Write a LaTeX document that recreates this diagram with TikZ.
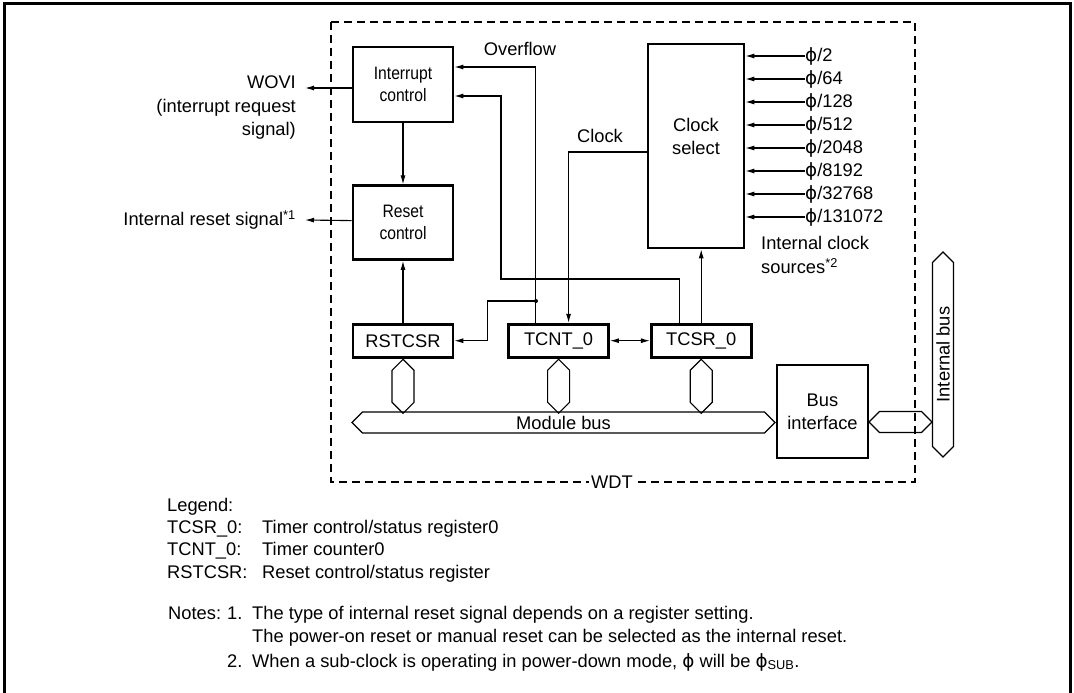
\documentclass[tikz,border=0pt]{standalone}
\usepackage{fontspec}
\setmainfont{Liberation Sans}
\newfontfamily\phifont{DejaVu Sans}
\newfontfamily\narrowfont[FakeStretch=0.87]{Liberation Sans}
\usetikzlibrary{arrows.meta,positioning,shapes.symbols}
\newcommand{\wdtphi}{{\phifont ϕ}}
\begin{document}
\begin{tikzpicture}[x=1pt,y=-1pt,node distance=61pt,font=\fontsize{18.3}{23}\selectfont,
 box/.style={draw,line width=2.6pt,align=center,inner sep=0pt},
 reg/.style={box,minimum width=100pt,minimum height=33pt},
 ctl/.style={box,minimum width=100pt,font=\narrowfont\fontsize{18}{22}\selectfont},
 hexbus/.style={draw,line width=1.1pt,signal,signal to=west and east,inner sep=0pt},
 stub/.style={hexbus,rotate=90,minimum width=54pt,minimum height=22pt,anchor=east},
 txt/.style={inner sep=0pt},
 arr/.style={line width=1.1pt,-{Latex[length=9pt,width=5pt]}},
 dbl/.style={line width=1.1pt,{Latex[length=9pt,width=5pt]}-{Latex[length=9pt,width=5pt]}}]
\useasboundingbox (0,0) rectangle (1074,693);
\draw[line width=3pt] (4,693) -- (4,4) -- (1070,4) -- (1070,693);
\draw[line width=1.1pt,dash pattern=on 8pt off 5pt] (331,22) rectangle (915,482);
\node[fill=white,inner sep=2pt] (wdt) at (612,482) {WDT};
\node[ctl,minimum height=75pt] (intc) at (403,84.5) {Interrupt\\control};
\node[ctl,minimum height=74pt,below=of intc] (rstc) {Reset\\control};
\node[reg,below=62pt of rstc] (rstcsr) {RSTCSR};
\node[reg,right=53pt of rstcsr] (tcnt) {TCNT\_0};
\node[reg,right=40pt of tcnt] (tcsr) {TCSR\_0};
\node[box,minimum width=96pt,minimum height=204pt] (clks) at (696,146) {};
\node[txt,align=center] (clkstxt) at (696,136.5) {Clock\\select};
\node[box,minimum width=91pt,minimum height=93pt] (busif) at (822.5,411.5) {Bus\\interface};
\node[hexbus,minimum width=423pt,minimum height=21pt] (mbus) at (563.5,422.5) {Module bus};
\node[hexbus,rotate=90,minimum width=205pt,minimum height=21pt] (ibus) at (943,354.5) {Internal bus};
\node[hexbus,minimum width=63pt,minimum height=21pt] (bcon) at (900.5,422) {};
\node[stub] (h1) at (rstcsr.south) {};
\node[stub] (h2) at (tcnt.south) {};
\node[stub] (h3) at (tcsr.south) {};
\node[txt] (ovflbl) at (520,49) {Overflow};
\node[txt] (clklbl) at (600,136) {Clock};
\node[txt,align=right,anchor=east,font=\fontsize{18.3}{23.5}\selectfont] (wovi) at (296,108) {WOVI\\(interrupt request\\signal)};
\node[txt,anchor=east] (rstsig) at (296,220) {Internal reset signal\textsuperscript{*1}};
\node[txt,align=left,anchor=west,font=\fontsize{18.3}{24}\selectfont] (srclbl) at (761,255) {Internal clock\\sources\textsuperscript{*2}};
\coordinate (woviend) at (305,88);
\coordinate (rstend) at (305,220);
\coordinate (ovf) at (536,301);
\foreach \d [count=\i] in {2,64,128,512,2048,8192,32768,131072}
 {\node[txt,anchor=west] (src\i) at (805,33+23*\i) {\wdtphi/\d};
  \draw[arr] (src\i.west) -- (src\i.west -| clks.east);}
\draw[arr] (intc)--(rstc);\draw[arr] (rstcsr)--(rstc);\draw[arr] (tcsr)--(tcsr |- clks.south);
\draw[dbl] (tcnt)--(tcsr);
\draw[arr] ([yshift=-3.5pt]intc.west)--(woviend);\draw[arr] ([yshift=2pt]rstc.west)--(rstend);
\draw[arr] ([xshift=-23pt]tcnt.north) |- ([yshift=17.5pt]intc.east);
\fill (ovf) circle (2pt);
\draw[arr] (ovf) -| ([xshift=33pt]rstcsr.east) -- (rstcsr.east);
\draw[arr] ([xshift=-22pt]tcsr.north) |- (501,279) |- ([yshift=-11.5pt]intc.east);
\draw[arr] ([yshift=-6pt]clks.west) -| ([xshift=10pt]tcnt.north);
\node[txt,anchor=base west] (lgd) at (167,511.5) {Legend:};
\node[txt,anchor=base west] (k1) at (167,533.5) {TCSR\_0:};
\node[txt,anchor=base west] (v1) at (262,533.5) {Timer control/status register0};
\node[txt,anchor=base west] (k2) at (167,555.5) {TCNT\_0:};
\node[txt,anchor=base west] (v2) at (262,555.5) {Timer counter0};
\node[txt,anchor=base west] (k3) at (167,578.5) {RSTCSR:};
\node[txt,anchor=base west] (v3) at (262,578.5) {Reset control/status register};
\node[txt,anchor=base west] (nts) at (168,619.5) {Notes:};
\node[txt,anchor=base west] (n1) at (227,619.5) {1.};
\node[txt,anchor=base west] (n1a) at (252,619.5) {The type of internal reset signal depends on a register setting.};
\node[txt,anchor=base west] (n1b) at (252,642.5) {The power-on reset or manual reset can be selected as the internal reset.};
\node[txt,anchor=base west] (n2) at (227,667) {2.};
\node[txt,anchor=base west] (n2a) at (252,667) {When a sub-clock is operating in power-down mode, \wdtphi{} will be \wdtphi\textsubscript{SUB}.};
\end{tikzpicture}
\end{document}
